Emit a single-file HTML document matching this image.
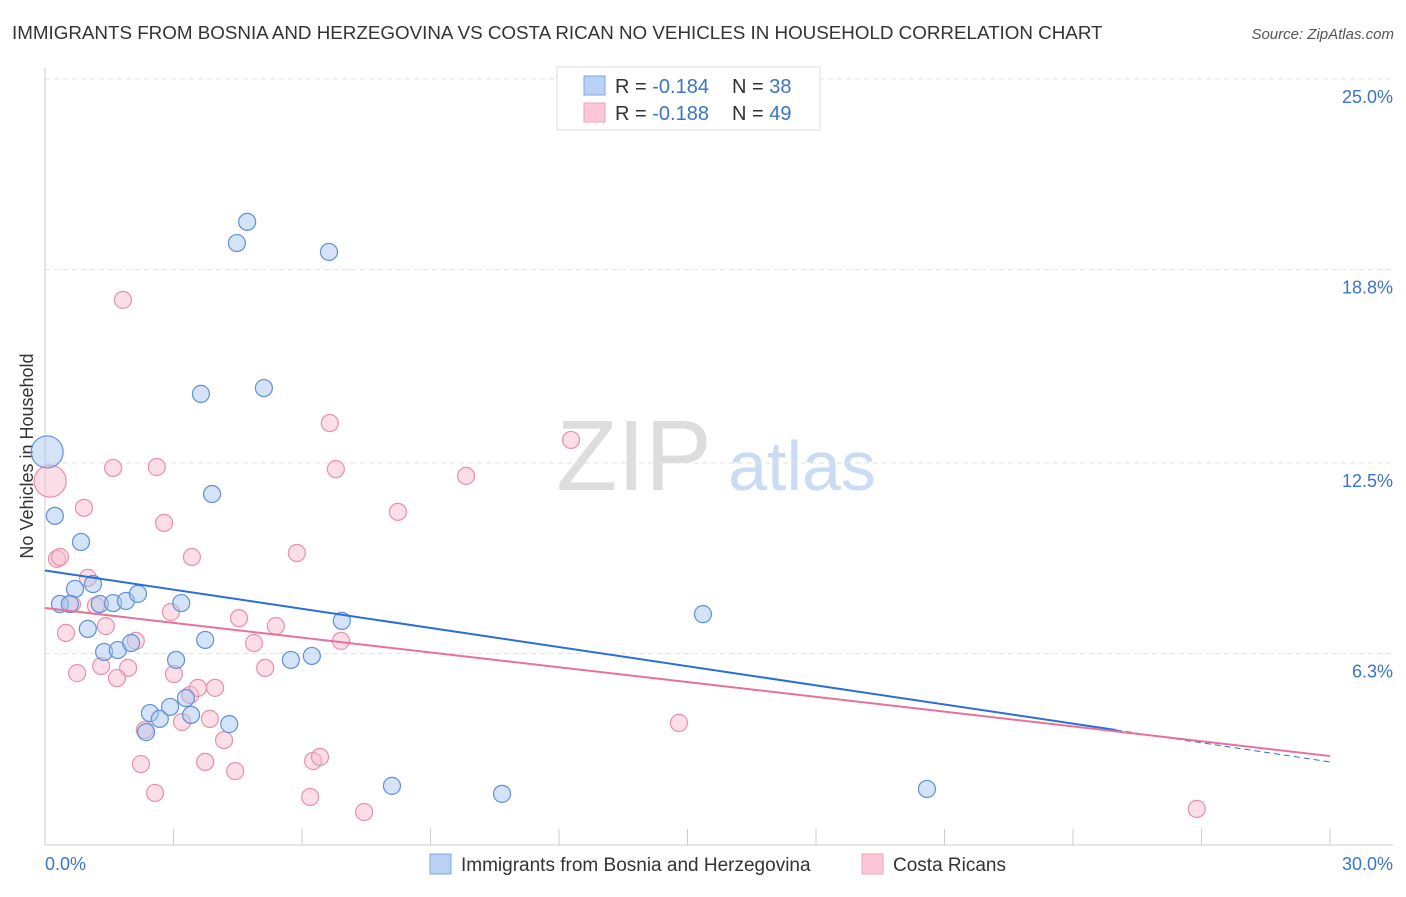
<!DOCTYPE html>
<html><head><meta charset="utf-8"><style>
body{margin:0;background:#fff;font-family:"Liberation Sans",sans-serif;}
svg text{font-family:"Liberation Sans",sans-serif;}
</style></head><body>
<svg id="chart" width="1406" height="892">
<text x="12" y="39" font-size="18.8" fill="#333">IMMIGRANTS FROM BOSNIA AND HERZEGOVINA VS COSTA RICAN NO VEHICLES IN HOUSEHOLD CORRELATION CHART</text>
<text x="1394" y="39" font-size="15" fill="#555" font-style="italic" text-anchor="end">Source: ZipAtlas.com</text>
<text x="634" y="490" font-size="100" fill="#ddd" font-family="Liberation Serif" text-anchor="middle">ZIP</text>
<text x="802" y="490" font-size="70" fill="#c9dcf3" text-anchor="middle">atlas</text>
<text transform="translate(33,456) rotate(-90)" font-size="18" fill="#333" text-anchor="middle">No Vehicles in Household</text>
<g id="grid"></g><g id="marks"></g>
<g>
<rect x="557" y="67" width="263" height="63" fill="#fff" stroke="#ddd"/>
<rect x="584" y="76" width="21" height="19" fill="#b8d1f5" stroke="#7fa6e0"/>
<rect x="584" y="103" width="21" height="19" fill="#fcc8d8" stroke="#eea0b8"/>
<text x="615" y="93" font-size="20" fill="#333">R = <tspan fill="#3a75c8">-0.184</tspan><tspan x="732">N = </tspan><tspan fill="#3a75c8">38</tspan></text>
<text x="615" y="120" font-size="20" fill="#333">R = <tspan fill="#3a75c8">-0.188</tspan><tspan x="732">N = </tspan><tspan fill="#3a75c8">49</tspan></text>
</g>
<g>
<rect x="430" y="854" width="21" height="20" fill="#b8d1f5" stroke="#7fa6e0"/>
<text x="461" y="871" font-size="19" fill="#333">Immigrants from Bosnia and Herzegovina</text>
<rect x="862" y="854" width="21" height="20" fill="#fcc8d8" stroke="#eea0b8"/>
<text x="893" y="871" font-size="19" fill="#333">Costa Ricans</text>
</g>
</svg>
<script>
const yTicks=[25,18.8,12.5,6.3];
const yTickLabels=["25.0%","18.8%","12.5%","6.3%"];
const xTickLabels=["0.0%","30.0%"];
const blueX=[0.05,0.23,0.84,1.12,0.70,0.35,0.58,1.28,1.59,1.89,2.17,1.00,3.18,1.38,1.70,2.01,3.74,3.06,5.74,6.23,6.93,2.45,2.68,2.92,3.29,3.41,4.30,2.36,4.48,4.72,6.63,3.64,5.11,3.90,15.36,8.10,10.67,20.59];
const blueY=[12.86,10.78,9.93,8.56,8.40,7.91,7.91,7.91,7.94,8.01,8.24,7.10,7.94,6.35,6.41,6.64,6.74,6.09,6.09,6.22,7.36,4.36,4.17,4.56,4.85,4.30,4.00,3.74,19.66,20.35,19.37,14.75,14.94,11.49,7.58,1.99,1.73,1.89];
const pinkX=[0.12,0.28,0.35,0.91,1.59,2.61,2.78,1.82,3.43,5.88,6.65,6.79,8.24,9.83,12.28,1.00,0.63,1.19,0.49,1.42,2.12,2.94,4.53,4.88,5.39,6.91,0.75,1.31,1.94,1.68,3.01,3.39,3.57,3.97,5.14,2.33,3.20,3.85,4.18,2.24,2.57,3.74,4.44,6.19,6.26,6.42,7.45,14.80,26.89];
const pinkY=[11.91,9.38,9.44,11.04,12.34,12.37,10.55,17.81,9.44,9.57,13.80,12.30,10.91,12.08,13.25,8.76,7.91,7.85,6.97,7.19,6.71,7.65,7.45,6.64,7.19,6.71,5.66,5.89,5.83,5.50,5.63,4.95,5.18,5.18,5.83,3.81,4.07,4.17,3.48,2.70,1.76,2.77,2.47,1.63,2.80,2.93,1.14,4.04,1.24];
const blueTrend=[9.0,2.77];const blueSolidEnd=25;
const pinkTrend=[7.78,2.96];
const X=v=>45+v*1285/30, Y=v=>847-v*30.72;
const NS='http://www.w3.org/2000/svg';
function mk(t,a,p){const e=document.createElementNS(NS,t);for(const k in a)e.setAttribute(k,a[k]);p.appendChild(e);return e;}
const g=document.getElementById('grid'),m=document.getElementById('marks');
yTicks.forEach((t,i)=>{
 const l=mk('line',{x1:45,x2:1393,y1:Y(t),y2:Y(t),stroke:'#e2e2e2','stroke-dasharray':'5,4'},g);
 
 
 const tx=mk('text',{x:1393,y:Y(t)+24,'font-size':18,fill:'#3a75c8','text-anchor':'end'},g);
 tx.textContent=yTickLabels[i];
 
 
});
const ax=mk('line',{x1:45,x2:1393,y1:845,y2:845,stroke:'#ccc'},g);


const ay=mk('line',{x1:45,x2:45,y1:68,y2:845,stroke:'#ccc'},g);


for(let i=0;i<=10;i++){const t=mk('line',{x1:X(i*3),x2:X(i*3),y1:829,y2:845,stroke:'#ccc'},g);
 
 }
[[0,'start',45],[30,'end',1393]].forEach((d,i)=>{const t=mk('text',{x:d[2],y:870,'font-size':18,fill:'#3a75c8','text-anchor':d[1]},g);t.textContent=xTickLabels[i];
 
 });
function pts(xs,ys,fill,stroke,name){xs.forEach((x,i)=>{const c=mk('circle',{cx:X(x),cy:Y(ys[i]),r:i===0?16:8.5,fill:fill,'fill-opacity':0.5,stroke:stroke,'stroke-width':1.2},m);
 
 });}
pts(pinkX,pinkY,'#f9bdd0','#e890aa','costa-rican-point');
pts(blueX,blueY,'#aac8f0','#5f90d8','bosnia-point');
const bs=blueTrend[0]+(blueTrend[1]-blueTrend[0])*blueSolidEnd/30;
const l1=mk('line',{x1:X(0),y1:Y(blueTrend[0]),x2:X(blueSolidEnd),y2:Y(bs),stroke:'#2a6fd6','stroke-width':2},m);


const l2=mk('line',{x1:X(blueSolidEnd),y1:Y(bs),x2:X(30),y2:Y(blueTrend[1]),stroke:'#2a6fd6','stroke-width':1,'stroke-dasharray':'6,4'},m);


const l3=mk('line',{x1:X(0),y1:Y(pinkTrend[0]),x2:X(30),y2:Y(pinkTrend[1]),stroke:'#e8719a','stroke-width':2},m);


</script>
</body></html>
